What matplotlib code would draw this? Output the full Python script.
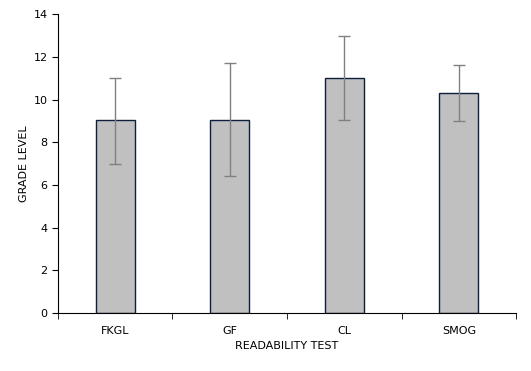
import matplotlib.pyplot as plt
import numpy as np

# readability scores
tests = ["FKGL", "GF", "CL", "SMOG"]
grade = [9.03, 9.06, 11.0, 10.29]
err_up = [1.97, 2.63, 1.98, 1.32]
err_down = [2.03, 2.66, 1.96, 1.30]

fig = plt.figure(figsize=(5.31, 3.71), dpi=100)
ax = fig.add_axes([0.109, 0.156, 0.863, 0.806])

x = np.arange(len(tests))
ax.bar(x, grade, width=0.34, color="#c0c0c0", edgecolor="#0d1f3c", linewidth=1.0, zorder=2)
ax.errorbar(x, grade, yerr=[err_down, err_up], fmt="none", ecolor="#808080",
            elinewidth=1.0, capsize=4, capthick=1.0, zorder=3)

ax.set_xlim(-0.5, len(tests) - 0.5)
ax.set_ylim(0, 14)
ax.set_yticks(range(0, 15, 2))
ax.set_xticks(x)
ax.set_xticklabels(tests)
ax.set_xticks(np.arange(-0.5, len(tests), 1), minor=True)
ax.tick_params(axis="x", which="major", length=0, pad=9, labelsize=8)
ax.tick_params(axis="x", which="minor", length=4, direction="out")
ax.tick_params(axis="y", length=4, direction="out", labelsize=8)

for s in ["top", "right"]:
    ax.spines[s].set_visible(False)

ax.set_xlabel("READABILITY TEST", fontsize=8)
ax.set_ylabel("GRADE LEVEL", fontsize=8, labelpad=3)

plt.savefig("out.png", dpi=100)
